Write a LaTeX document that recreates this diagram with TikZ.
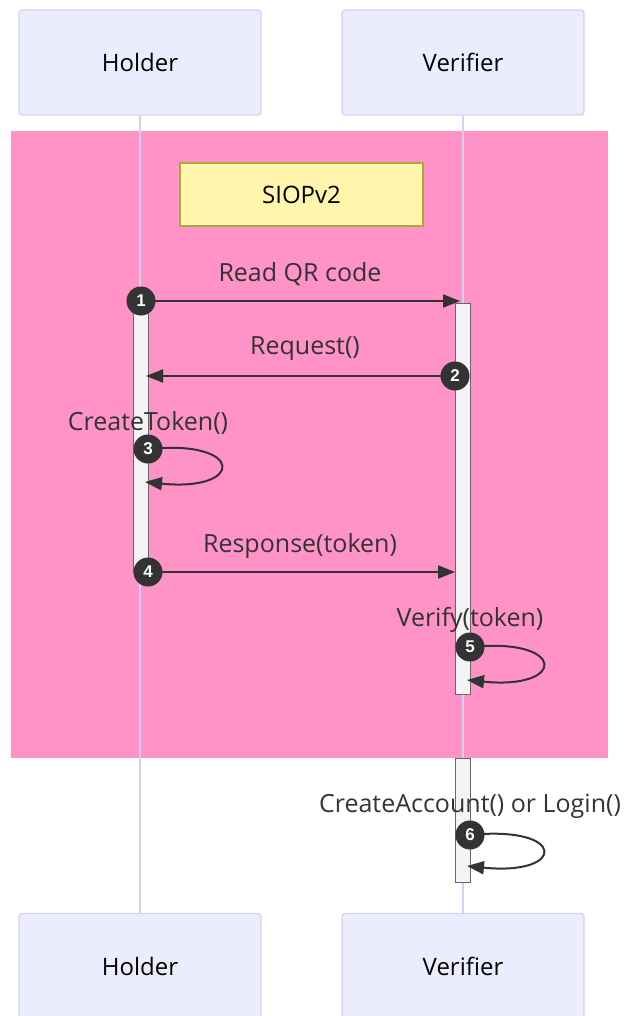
\documentclass[tikz,border=0pt]{standalone}
\usepackage{fontspec}
\setmainfont{Open Sans}
\newfontfamily\numfont{Liberation Sans}
\usetikzlibrary{arrows.meta}
\definecolor{actorfill}{HTML}{ECECFF}
\definecolor{actorline}{HTML}{D6CFF2}
\definecolor{regionpink}{HTML}{FF92C6}
\definecolor{notefill}{HTML}{FFF5AD}
\definecolor{noteline}{HTML}{AAAA33}
\definecolor{msgline}{HTML}{333333}
\definecolor{barfill}{HTML}{F4F4F4}
\definecolor{barline}{HTML}{666666}
\tikzset{
  actorbox/.style={draw=actorline, fill=actorfill, line width=1.2pt, rounded corners=3pt,
    minimum width=242pt, minimum height=105pt, inner sep=0pt,
    font=\fontsize{24}{28}\selectfont, text=black},
  lifeline/.style={draw=actorline, line width=2pt},
  actbar/.style={draw=barline, fill=barfill, line width=1pt},
  msg/.style={draw=msgline, line width=2pt, -{Triangle[length=17pt,width=13pt]}},
  msgtext/.style={font=\fontsize{25}{29}\selectfont, text=msgline, inner sep=0pt},
  seqnum/.style={circle, fill=msgline, text=white, minimum size=29pt, inner sep=0pt,
    font=\numfont\bfseries\fontsize{17}{17}\selectfont},
}
\begin{document}
\begin{tikzpicture}[x=1pt, y=-1pt]
\useasboundingbox (0,0) rectangle (627,1016);

% highlighted SIOPv2 region
\fill[regionpink] (11,131) rectangle (608,758);

% actors (top and bottom)
\node[actorbox] (htop) at (140,62.5) {Holder};
\node[actorbox] (vtop) at (463,62.5) {Verifier};
\node[actorbox] (hbot) at (140,966) {Holder};
\node[actorbox] (vbot) at (463,966) {Verifier};

% lifelines
\draw[lifeline] (htop.south) -- (hbot.north);
\draw[lifeline] (vtop.south) -- (vbot.north);

% note
\node[draw=noteline, fill=notefill, line width=1.2pt, minimum width=243pt, minimum height=63pt,
  inner sep=0pt, font=\fontsize{24}{28}\selectfont, text=black] (note) at (301.5,194.5) {SIOPv2};

% activation bars
\draw[actbar] (133,303) rectangle (148,572);
\draw[actbar] (455,303) rectangle (470,694);
\draw[actbar] (455,758) rectangle (470,882);

% anchor points of the messages
\coordinate (m1s) at (141,301);
\coordinate (m1e) at (460,301);
\coordinate (m2s) at (455,376);
\coordinate (m2e) at (146,376);
\coordinate (m3s) at (148,449);
\coordinate (m3e) at (145,482);
\coordinate (m4s) at (148,572);
\coordinate (m4e) at (455,572);
\coordinate (m5s) at (470,647);
\coordinate (m5e) at (467,680);
\coordinate (m6s) at (470,835);
\coordinate (m6e) at (467,866);

% messages
\draw[msg] (m1s) -- (m1e);
\node[msgtext] (t1) at (300,274) {Read QR code};
\draw[msg] (m2s) -- (m2e);
\node[msgtext] (t2) at (305,349) {Request()};
\draw[msg] (m3s) .. controls (245,439) and (245,492) .. (m3e);
\node[msgtext] (t3) at (148,423) {CreateToken()};
\draw[msg] (m4s) -- (m4e);
\node[msgtext] (t4) at (300,546) {Response(token)};
\draw[msg] (m5s) .. controls (567,637) and (567,690) .. (m5e);
\node[msgtext] (t5) at (470,620) {Verify(token)};
\draw[msg] (m6s) .. controls (567,825) and (567,876) .. (m6e);
\node[msgtext] (t6) at (470,806) {CreateAccount() or Login()};

% sequence numbers
\node[seqnum] (n1) at (m1s) {1};
\node[seqnum] (n2) at (m2s) {2};
\node[seqnum] (n3) at (m3s) {3};
\node[seqnum] (n4) at (m4s) {4};
\node[seqnum] (n5) at (m5s) {5};
\node[seqnum] (n6) at (m6s) {6};
\end{tikzpicture}
\end{document}
